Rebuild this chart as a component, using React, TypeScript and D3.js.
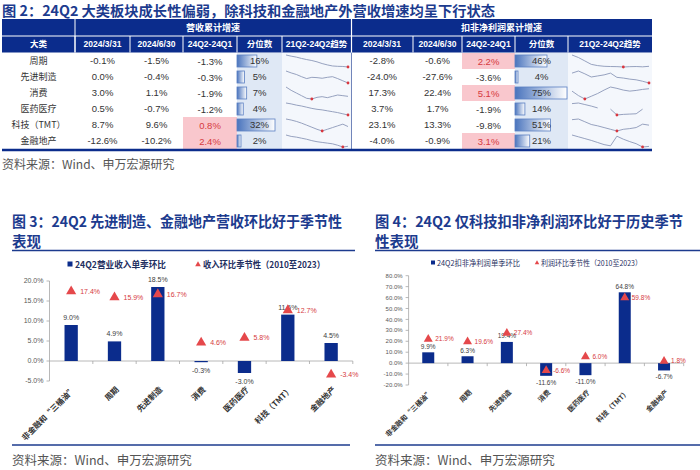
import React from 'react';
import * as d3 from 'd3';

// ---------- Table data ----------
const categories = ['周期', '先进制造', '消费', '医药医疗', '科技（TMT）', '金融地产'];
const tableHeaders = ['2024/3/31', '2024/6/30', '24Q2-24Q1', '分位数', '21Q2-24Q2趋势'];
const revQ1 = [-0.1, 0.0, 3.0, 0.5, 8.7, -12.6];
const revQ2 = [-1.5, -0.4, 1.1, -0.7, 9.6, -10.2];
const revDiff = [-1.3, -0.3, -1.9, -1.2, 0.8, 2.4];
const revPct = [16, 5, 7, 4, 32, 2];
const profQ1 = [-2.8, -24.0, 17.3, 3.7, 23.1, -4.0];
const profQ2 = [-0.6, -27.6, 22.4, 1.7, 13.3, -0.9];
const profDiff = [2.2, -3.6, 5.1, -1.9, -9.8, 3.1];
const profPct = [46, 4, 75, 14, 51, 21];

// 21Q2..24Q2 trend (13 quarters), estimated from sparklines
const revTrend: (number | null)[][] = [
  [30, 27, 24.5, 21, 18, 15.5, 12, 7.5, 4, 1.2, 0.3, -0.1, -1.5],
  [18.6, 15.6, 13.1, 9.6, 6.6, 8.6, 8.1, 7.1, 8.6, 9.6, 6.6, 3.1, -0.4],
  [12.3, 8.3, 5.1, 1.9, -1.3, -2.1, -0.1, 0.7, -0.5, 1.1, 2.7, 1.9, 1.1],
  [19.3, 17.8, 15.8, 14.3, 12.3, 10.3, 8.8, 7.8, 6.3, 4.8, 3.3, 1.3, -0.7],
  [9, 7.8, 6.2, 4.2, 1.8, -0.6, -3, -5, -3, -1, 1, 3, 0.2],
  [7.8, 5.4, 4.2, 2.4, 0.6, -1.8, -3.6, -4.8, -6, -7.2, -9.6, -12.6, -11.4],
];
const profTrend: (number | null)[][] = [
  [49, 38, 23, 8, 2.5, -0.5, -1.5, -2, -3.6, -2.2, -1.5, -2.8, -0.6],
  [0.4, 6.4, -1.6, -10.6, -7.6, -4.6, 0.4, -11.6, -13.6, -16.6, -18.6, -22.6, -27.6],
  [18.2, 10.4, 4.4, 9.2, 14, 20, 25.4, 23, 20, 18.2, 19.4, 21.2, 22.4],
  [20, 21, 18.5, 16, 13, null, 11, 1.5, 2.5, 3, 3.5, 11, null],
  [19.8, 21, 16.2, 11.4, 9, 6, 3, 0, 3, 4.2, 6, 12, 10.2],
  [16, 13, 10, 7, 3.5, 0, -2, 14, 9, 5, 1.5, -4, -3],
];

// ---------- Chart data ----------
const chartCats = ['非金融和“三桶油”', '周期', '先进制造', '消费', '医药医疗', '科技（TMT）', '金融地产'];
const revQoQ = [9.0, 4.9, 18.5, -0.3, -3.0, 11.6, 4.5];
const revSeasonal = [17.4, 15.9, 16.7, 4.6, 5.8, 12.7, -3.4];
const profQoQ = [9.9, 6.3, 19.4, -11.6, -11.0, 64.8, -6.7];
const profSeasonal = [21.9, 19.6, 27.4, -6.6, 6.0, 59.8, 1.8];
const revTicks = [-5, 0, 5, 10, 15, 20];
const profTicks = [-20, -10, 0, 10, 20, 30, 40, 50, 60, 70, 80];

// ---------- Styles ----------
const BLUE = '#0b2c8c';
const TITLE = '#1c3b8e';
const RED_TRI = '#e5484b';
const RED_TXT = '#d63a3e';
const PINK = '#f9c7cd';
const FONT = '"Liberation Sans", "Noto Sans CJK SC", sans-serif';
const CJK = '"Noto Sans CJK SC", "Liberation Sans", sans-serif';

const fmt = (v: number) => v.toFixed(1) + '%';

const rowY = d3.scaleBand<string>().domain(categories).range([53, 149]);

function Table({ cols, hasCat, group, q1, q2, diff, pct, trend, barRange }: any) {
  const off = hasCat ? 1 : 0;
  const cx = (i: number) => (cols[i] + cols[i + 1]) / 2;
  const colQ1 = off, colQ2 = off + 1, colD = off + 2, colP = off + 3, colT = off + 4;
  const pctScale = d3.scaleLinear().domain(d3.extent(pct) as [number, number]).range(barRange);
  const tx = d3.scaleLinear().domain([0, 12]).range([cols[colT] + 4, cols[colT + 1] - 3]);
  const headers = hasCat ? ['大类', ...tableHeaders] : tableHeaders;
  const rh = rowY.bandwidth();
  return (
    <g>
      <rect x={cols[0]} y={19} width={cols[cols.length - 1] - cols[0]} height={33.5} fill={BLUE} />
      <line x1={cols[0]} x2={cols[cols.length - 1]} y1={36} y2={36} stroke="#fff" strokeWidth={1} />
      {hasCat && <line x1={cols[1]} x2={cols[1]} y1={19} y2={52.5} stroke="#fff" strokeWidth={1} />}
      {cols.slice(1, -1).map((c: number, i: number) => (
        <line key={i} x1={c} x2={c} y1={36} y2={52.5} stroke="#fff" strokeWidth={1} />
      ))}
      <text x={(cols[off] + cols[cols.length - 1]) / 2} y={30.5} textAnchor="middle" fill="#fff"
        fontSize={9} fontWeight="bold" fontFamily={CJK}>{group}</text>
      {headers.map((h: string, i: number) => (
        <text key={h} x={cx(i)} y={47.3} textAnchor="middle" fill="#fff" fontSize={8.5}
          fontWeight="bold" fontFamily={FONT}>{h}</text>
      ))}
      <rect x={cols[colP]} y={53} width={cols[colP + 1] - cols[colP]} height={96} fill="#dfe8f5" />
      <rect x={cols[colT]} y={53} width={cols[colT + 1] - cols[colT]} height={96} fill="#f4f7fc" />
      {categories.map((c, r) => {
        const top = rowY(c) as number;
        const base = top + rh / 2 + 3.3;
        const vals = trend[r] as (number | null)[];
        const defined = vals.filter((v) => v != null) as number[];
        const ty = d3.scaleLinear().domain(d3.extent(defined) as [number, number]).range([top + 14, top + 2]);
        const line = d3.line<number | null>()
          .defined((d) => d != null)
          .x((_, i) => tx(i))
          .y((d) => ty(d as number));
        const minV = d3.min(defined) as number;
        const minI = vals.indexOf(minV);
        return (
          <g key={c}>
            {diff[r] > 0 && (
              <rect x={cols[colD]} y={top} width={cols[colD + 1] - cols[colD]} height={rh} fill={PINK} />
            )}
            {hasCat && (
              <text x={cx(0)} y={base} textAnchor="middle" fontSize={9} fill="#333" fontFamily={CJK}>{c}</text>
            )}
            <text x={cx(colQ1)} y={base} textAnchor="middle" fontSize={9.5} fill="#333" fontFamily={FONT}>{fmt(q1[r])}</text>
            <text x={cx(colQ2)} y={base} textAnchor="middle" fontSize={9.5} fill="#333" fontFamily={FONT}>{fmt(q2[r])}</text>
            <text x={cx(colD)} y={base + 1} textAnchor="middle" fontSize={9.5}
              fill={diff[r] > 0 ? RED_TXT : '#333'} fontFamily={FONT}>{fmt(diff[r])}</text>
            <rect x={cols[colP]} y={top + 2} width={pctScale(pct[r])} height={12}
              fill="url(#pg)" stroke="#5a7fc2" strokeWidth={0.8} />
            <text x={cx(colP)} y={base} textAnchor="middle" fontSize={9.5} fill="#333" fontFamily={FONT}>{pct[r]}%</text>
            <path d={line(vals) as string} fill="none" stroke="#8b97b8" strokeWidth={0.9} />
            <circle cx={tx(minI)} cy={ty(minV)} r={1.4} fill="#d9363e" />
          </g>
        );
      })}
    </g>
  );
}

function Chart({ cats, bars, tris, xr, yd, yr, tickVals, barW, tickFs, lblFs, xFs, triSize, triDx, posDy, negDy, xlY }: any) {
  const x = d3.scaleBand<string>().domain(cats).range(xr).padding(0);
  const y = d3.scaleLinear().domain(yd).range(yr);
  const y0 = y(0);
  const step = x.step();
  const tri = d3.symbol().type(d3.symbolTriangle).size(triSize)() as string;
  return (
    <g fontFamily={FONT}>
      <line x1={xr[0]} x2={xr[0]} y1={yr[0]} y2={yr[1]} stroke="#a6a6a6" strokeWidth={0.8} />
      {tickVals.map((t: number) => (
        <g key={t}>
          <line x1={xr[0] - 3} x2={xr[0]} y1={y(t)} y2={y(t)} stroke="#a6a6a6" strokeWidth={0.8} />
          <text x={xr[0] - 6} y={y(t)} dy="0.35em" textAnchor="end" fontSize={tickFs} fill="#595959">{t.toFixed(1)}%</text>
        </g>
      ))}
      <line x1={xr[0]} x2={xr[1]} y1={y0} y2={y0} stroke="#a6a6a6" strokeWidth={0.8} />
      {cats.map((c: string, i: number) => {
        const bx = (x(c) as number) + step;
        return <line key={'t' + i} x1={bx} x2={bx} y1={y0} y2={y0 + 3} stroke="#a6a6a6" strokeWidth={0.8} />;
      })}
      {cats.map((c: string, i: number) => {
        const cx = (x(c) as number) + step / 2;
        const v = bars[i];
        const top = Math.min(y(v), y0);
        const h = Math.abs(y(v) - y0);
        return (
          <g key={c}>
            <rect x={cx - barW / 2} y={top} width={barW} height={h} fill={BLUE} />
            <text x={cx} y={v >= 0 ? y(v) - posDy : y(v) + negDy} textAnchor="middle" fontSize={lblFs} fill="#404040">{fmt(v)}</text>
            <path d={tri} transform={`translate(${cx},${y(tris[i])})`} fill={RED_TRI} />
            <text x={cx + triDx} y={y(tris[i])} dy="0.35em" fontSize={lblFs} fill={RED_TXT}>{fmt(tris[i])}</text>
            <text transform={`translate(${cx + 3},${xlY}) rotate(-45)`} textAnchor="end" dy="0.35em"
              fontSize={xFs} fontWeight="bold" fill="#333" fontFamily={CJK}>{c}</text>
          </g>
        );
      })}
    </g>
  );
}

export default function App() {
  return (
    <svg width={700} height={470} style={{ position: 'absolute', left: 0, top: 0, background: '#fff' }}>
      <defs>
        <linearGradient id="pg" x1="0" x2="1" y1="0" y2="0">
          <stop offset="0" stopColor="#4a74bd" />
          <stop offset="1" stopColor="#ffffff" />
        </linearGradient>
      </defs>
      <rect width={700} height={470} fill="#fff" />

      {/* Figure 2 */}
      <text x={2} y={15.5} fontSize={14} fontWeight="bold" fill={TITLE} fontFamily={CJK}
        textLength={493} lengthAdjust="spacingAndGlyphs">图 2：24Q2 大类板块成长性偏弱，除科技和金融地产外营收增速均呈下行状态</text>
      <Table cols={[2, 75, 130, 183, 237, 282, 351]} hasCat group="营收累计增速"
        q1={revQ1} q2={revQ2} diff={revDiff} pct={revPct} trend={revTrend} barRange={[4, 38]} />
      <Table cols={[351, 413, 462, 515, 568, 652]} hasCat={false} group="扣非净利润累计增速"
        q1={profQ1} q2={profQ2} diff={profDiff} pct={profPct} trend={profTrend} barRange={[3, 52]} />
      <line x1={351.5} x2={351.5} y1={19} y2={52.5} stroke="#fff" strokeWidth={1.2} />
      <line x1={351.5} x2={351.5} y1={53} y2={149} stroke="#4d66a8" strokeWidth={0.8} />
      <line x1={2} x2={652} y1={150} y2={150} stroke={BLUE} strokeWidth={2.5} />
      <text x={2} y={169} fontSize={12} fill="#555" fontFamily={CJK}>资料来源：Wind、申万宏源研究</text>

      {/* Figure 3 */}
      <text x={12} y={227} fontSize={14.5} fontWeight="bold" fill={TITLE} fontFamily={CJK}
        textLength={330} lengthAdjust="spacingAndGlyphs">图 3：24Q2 先进制造、金融地产营收环比好于季节性</text>
      <text x={12} y={247} fontSize={14.5} fontWeight="bold" fill={TITLE} fontFamily={CJK}>表现</text>
      <line x1={12} x2={355} y1={250.5} y2={250.5} stroke={TITLE} strokeWidth={1.5} />
      <rect x={67.5} y={261.5} width={5} height={5} fill={BLUE} />
      <text x={75} y={267.5} fontSize={9} fontWeight="bold" fill="#1f2f5f" fontFamily={CJK}
        textLength={91} lengthAdjust="spacingAndGlyphs">24Q2营业收入单季环比</text>
      <path d={d3.symbol().type(d3.symbolTriangle).size(14)() as string} transform="translate(198,264.5)" fill={RED_TRI} />
      <text x={203} y={267.5} fontSize={9} fontWeight="bold" fill="#1f2f5f" fontFamily={CJK}
        textLength={122} lengthAdjust="spacingAndGlyphs">收入环比季节性（2010至2023）</text>
      <Chart cats={chartCats} bars={revQoQ} tris={revSeasonal} xr={[49.5, 352.8]} yd={[-5, 20]} yr={[381, 281]}
        tickVals={revTicks} barW={13.3} tickFs={7} lblFs={7} xFs={8} triSize={45} triDx={9}
        posDy={5} negDy={11} xlY={388} />
      <line x1={12} x2={350} y1={445} y2={445} stroke={TITLE} strokeWidth={1.5} />
      <text x={12} y={465} fontSize={12.5} fill="#555" fontFamily={CJK}>资料来源：Wind、申万宏源研究</text>

      {/* Figure 4 */}
      <text x={375} y={227} fontSize={14.5} fontWeight="bold" fill={TITLE} fontFamily={CJK}
        textLength={308} lengthAdjust="spacingAndGlyphs">图 4：24Q2 仅科技扣非净利润环比好于历史季节</text>
      <text x={375} y={247} fontSize={14.5} fontWeight="bold" fill={TITLE} fontFamily={CJK}>性表现</text>
      <line x1={375} x2={700} y1={250.5} y2={250.5} stroke={TITLE} strokeWidth={1.5} />
      <rect x={431} y={260.5} width={4} height={4} fill={BLUE} />
      <text x={437} y={265.5} fontSize={7.5} fill="#1f2f5f" fontFamily={CJK}
        textLength={83} lengthAdjust="spacingAndGlyphs">24Q2扣非净利润单季环比</text>
      <path d={d3.symbol().type(d3.symbolTriangle).size(9)() as string} transform="translate(537,263)" fill={RED_TRI} />
      <text x={541} y={265.5} fontSize={7.5} fill="#1f2f5f" fontFamily={CJK}
        textLength={101} lengthAdjust="spacingAndGlyphs">利润环比季节性（2010至2023）</text>
      <Chart cats={chartCats} bars={profQoQ} tris={profSeasonal} xr={[408.6, 683.7]} yd={[-20, 80]} yr={[385, 275.7]}
        tickVals={profTicks} barW={12} tickFs={6} lblFs={6.5} xFs={7} triSize={35} triDx={7}
        posDy={3.5} negDy={9} xlY={391} />
      <line x1={375} x2={700} y1={445} y2={445} stroke={TITLE} strokeWidth={1.5} />
      <text x={375} y={465} fontSize={12.5} fill="#555" fontFamily={CJK}>资料来源：Wind、申万宏源研究</text>
    </svg>
  );
}
